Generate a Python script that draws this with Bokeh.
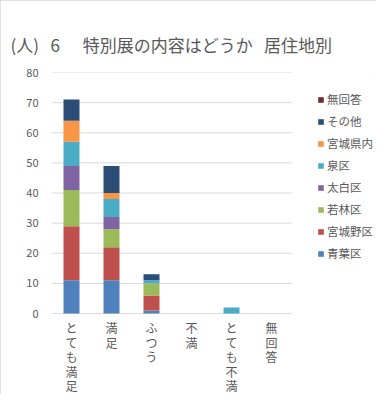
from bokeh.plotting import figure
from bokeh.models import (ColumnDataSource, Range1d, FixedTicker, Legend, LegendItem, Title)
from bokeh.core.properties import value
from bokeh.embed import file_html
from bokeh.resources import INLINE

categories = ["とても満足", "満足", "ふつう", "不満", "とても不満", "無回答"]
series = ["青葉区", "宮城野区", "若林区", "太白区", "泉区", "宮城県内", "その他", "無回答"]
aoba = [11, 11, 1, 0, 0, 0]
miyaginono = [18, 11, 5, 0, 0, 0]
wakabayashi = [12, 6, 4, 0, 0, 0]
taihaku = [8, 4, 0, 0, 0, 0]
izumi = [8, 6, 1, 0, 2, 0]
kennai = [7, 2, 0, 0, 0, 0]
sonota = [7, 9, 2, 0, 0, 0]
mukaito = [0, 0, 0, 0, 0, 0]
colors = ["#4F81BD", "#C0504D", "#9BBB59", "#8064A2", "#4BACC6", "#F79646", "#2C4D75", "#772C2A"]
y_ticks = [0, 10, 20, 30, 40, 50, 60, 70, 80]
unit_text = "(人)"
title_parts = ["6", "特別展の内容はどうか", "居住地別"]

NB = "\u00a0"
FONT = "Noto Sans CJK JP"
GRAY = "#595959"

n = len(categories)
x_pos = [i + 0.5 for i in range(n)]
data = {"x": x_pos, "cat": categories}
for name, vals in zip(series, [aoba, miyaginono, wakabayashi, taihaku, izumi, kennai, sonota, mukaito]):
    data[name] = vals
source = ColumnDataSource(data)

W, H = 376, 394
left, top = 51, 72
plot_h = 241          # pixel height of the 0..80 value area
cat_px = 40           # pixels per category slot
y_max = y_ticks[-1]
px_per_unit = plot_h / y_max
below_px = H - top - plot_h   # label area under the value axis

p = figure(width=W, height=H, output_backend="svg", toolbar_location=None,
           min_border_left=left, min_border_right=0,
           min_border_top=top, min_border_bottom=0)
p.x_range = Range1d(0, (W - left) / cat_px)
p.y_range = Range1d(-below_px / px_per_unit, y_max)
p.outline_line_color = None
p.styles = {"outline": "1px solid #d9d9d9", "outline-offset": "-1px"}

# horizontal grid lines (and base line) across the category area only
p.xgrid.grid_line_color = None
p.ygrid.grid_line_color = None
p.segment(x0=0, x1=n, y0=y_ticks, y1=y_ticks, line_color="#d9d9d9", line_width=1,
          level="underlay")

renderers = p.vbar_stack(series, x="x", width=0.4, color=colors, source=source, line_width=0)

p.xaxis.visible = False
p.yaxis.ticker = FixedTicker(ticks=y_ticks)
p.yaxis.axis_line_color = None
p.yaxis.major_tick_line_color = None
p.yaxis.minor_tick_line_color = None
p.yaxis.major_label_text_font = FONT
p.yaxis.major_label_text_font_size = "11px"
p.yaxis.major_label_text_color = GRAY
p.yaxis.major_label_standoff = 7

# category labels written vertically (one character per line) under each bar
lx, ly, lt, loff = [], [], [], []
for x, c in zip(x_pos, categories):
    for i, ch in enumerate(c):
        lx.append(x)
        ly.append(0)
        lt.append(ch)
        loff.append(14 + 14.5 * i)
p.text(x=lx, y=ly, text=lt, y_offset=loff, text_align="center", text_baseline="middle",
       text_font=value(FONT), text_font_size="12px", text_color=GRAY)

items = [LegendItem(label=name, renderers=[r]) for name, r in zip(series, renderers)][::-1]
legend = Legend(items=items, location=(266, 133), padding=0, margin=0,
                border_line_color=None, background_fill_alpha=0,
                glyph_width=7, glyph_height=7, label_height=14, spacing=6,
                label_standoff=3, label_text_font=FONT, label_text_font_size="11.5px",
                label_text_color=GRAY)
p.add_layout(legend, "center")

title_text = unit_text + NB * 3 + title_parts[0] + NB * 6 + title_parts[1] + NB * 3 + title_parts[2]
p.title = Title(text=title_text, align="left", offset=-41, standoff=32,
                text_font=FONT, text_font_size="17px", text_font_style="normal",
                text_color=GRAY)

open("out.html", "w").write(file_html(p, INLINE))
